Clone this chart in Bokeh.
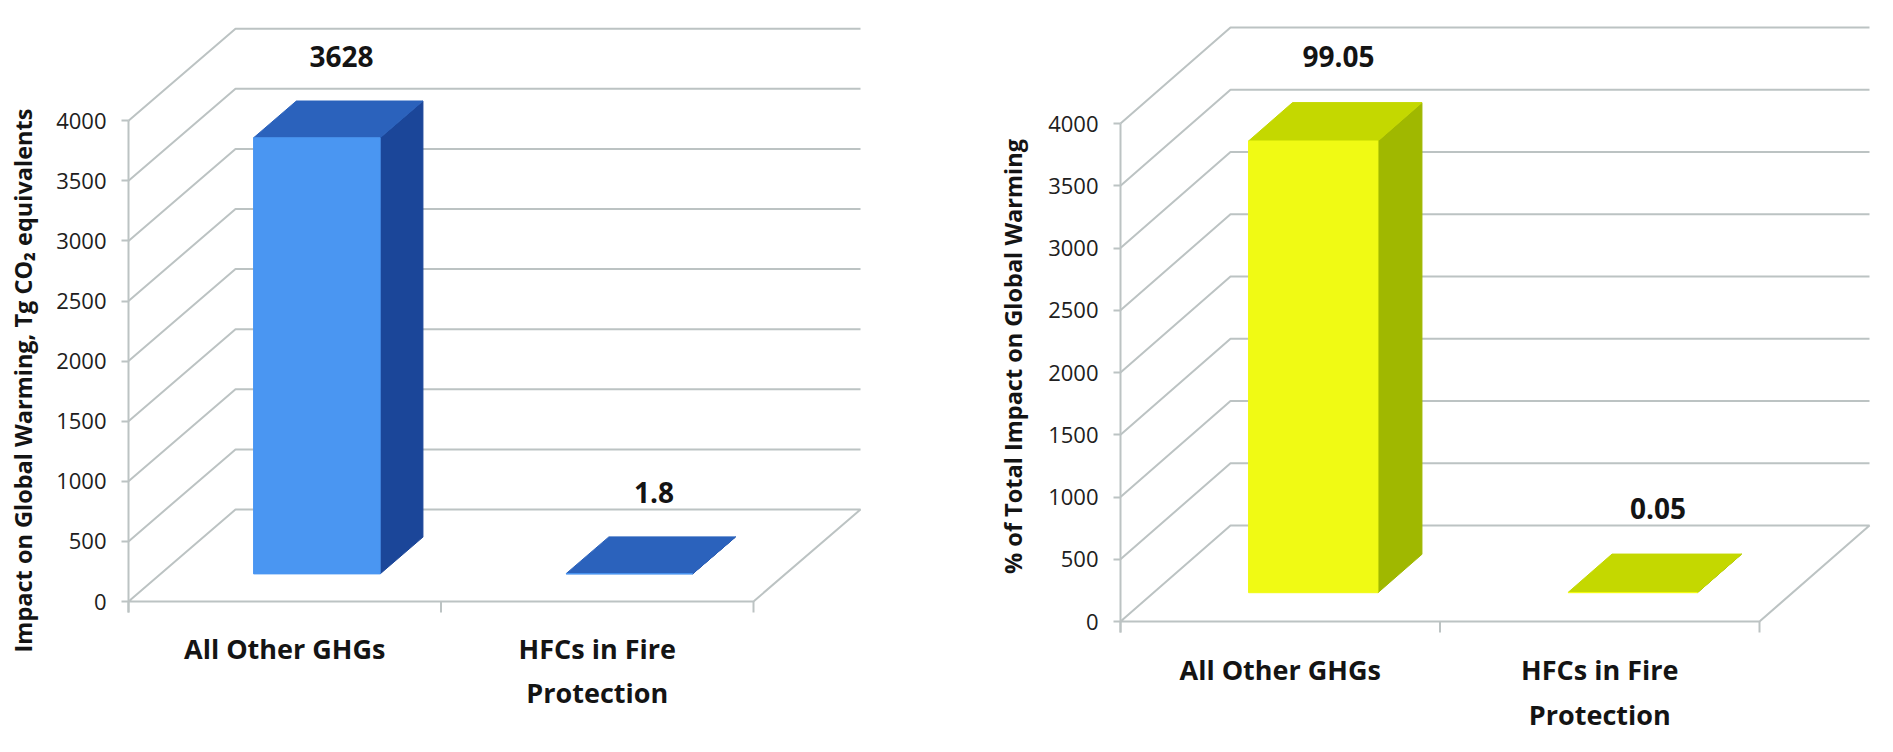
import math
from bokeh.plotting import figure
from bokeh.layouts import row
from bokeh.models import Range1d, FixedTicker, LinearAxis, ColumnDataSource
from bokeh.core.properties import value
from bokeh.embed import file_html
from bokeh.resources import INLINE

# ---------------- data ----------------
categories = ["All Other GHGs", "HFCs in Fire\nProtection"]
impact_tg = [3628, 1.8]                 # Tg CO2 equivalents (bar heights, both panels)
impact_labels = ["3628", "1.8"]
share_pct = [99.05, 0.05]               # % of total impact (right panel labels)
share_labels = ["99.05", "0.05"]
y_ticks = [0, 500, 1000, 1500, 2000, 2500, 3000, 3500, 4000]
title_left = "Impact on Global Warming, Tg CO\u2082 equivalents"
title_right = "% of Total Impact on Global Warming"

# ---------------- style / layout ----------------
GRID = "#BCC3C3"
TXT = "#141414"
FONT = "Open Sans"
FIG_H = 744

LEFT = dict(fig=(0, 880), axis_px=128, zero_px=601, px_per_500=60.1, cat_px=312.5,
            depth_px=(107, 92), title_xy=(22, 380),
            cat_dy=47, cat_gap=44, label_dy=-60,
            front="#4A96F2", top="#2B62BC", side="#1B4699")
RIGHT = dict(fig=(880, 1882), axis_px=1120, zero_px=621, px_per_500=62.25, cat_px=319.5,
             depth_px=(110, 96), title_xy=(1012, 356),
             cat_dy=48, cat_gap=45, label_dy=-62,
             front="#F0FA14", top="#C4D800", side="#A0B800")

BAR_W = 0.405        # bar width as share of category
F0, F1 = 0.30, 0.70  # bar front/back depth fractions
FL = 0.53            # depth fraction of value labels
TICK_LEN = 11


def make_chart(cfg, heights, labels, ytitle):
    ax, z = cfg["axis_px"], cfg["zero_px"]
    ppx = cfg["cat_px"]
    ppy = cfg["px_per_500"] / 500.0
    fl, fr = cfg["fig"]
    p = figure(frame_width=fr - fl, frame_height=FIG_H,
               x_range=Range1d((fl - ax) / ppx, (fr - ax) / ppx),
               y_range=Range1d(-(FIG_H - z) / ppy, z / ppy),
               min_border_left=0, min_border_right=0,
               min_border_top=0, min_border_bottom=0,
               x_axis_location=None, y_axis_location=None,
               toolbar_location=None, output_backend="svg",
               outline_line_color=None, background_fill_color="white")
    p.grid.visible = False

    ya = LinearAxis(fixed_location=0, ticker=FixedTicker(ticks=y_ticks))
    ya.axis_line_color = None
    ya.major_tick_out = 7
    ya.major_tick_in = 0
    ya.major_tick_line_color = GRID
    ya.major_tick_line_width = 2
    ya.minor_tick_line_color = None
    ya.major_label_standoff = 15
    ya.major_label_text_font = FONT
    ya.major_label_text_font_size = "22px"
    ya.major_label_text_color = "#202020"
    p.add_layout(ya, "left")

    DX = cfg["depth_px"][0] / ppx
    DY = cfg["depth_px"][1] / ppy
    ncat = len(categories)
    tick_len = TICK_LEN / ppy

    # back wall gridlines
    xs, ys = [], []
    for t in y_ticks[1:]:
        xs.append([0, DX, ncat + DX])
        ys.append([t, t + DY, t + DY])
    # floor
    xs.append([0, DX, ncat + DX, ncat, 0])
    ys.append([0, DY, DY, 0, 0])
    p.multi_line(xs=xs, ys=ys, line_color=GRID, line_width=2)
    # front axis line and category ticks
    p.segment(x0=[0], y0=[-tick_len], x1=[0], y1=[max(y_ticks)], line_color=GRID, line_width=2)
    p.segment(x0=list(range(ncat + 1)), y0=[0] * (ncat + 1),
              x1=list(range(ncat + 1)), y1=[-tick_len] * (ncat + 1),
              line_color=GRID, line_width=2)

    # 3D bars
    w = BAR_W / 2
    tx, ty, sx, sy = [], [], [], []
    fl_, fr_, fb_, ft_ = [], [], [], []
    for i, v in enumerate(heights):
        cx = i + 0.5
        l0, r0 = cx - w + F0 * DX, cx + w + F0 * DX
        l1, r1 = cx - w + F1 * DX, cx + w + F1 * DX
        b0, b1 = F0 * DY, F1 * DY
        tx.append([l0, r0, r1, l1]); ty.append([v + b0, v + b0, v + b1, v + b1])
        sx.append([r0, r1, r1, r0]); sy.append([b0, b1, v + b1, v + b0])
        fl_.append(l0); fr_.append(r0); fb_.append(b0); ft_.append(v + b0)
    p.patches(xs=sx, ys=sy, fill_color=cfg["side"], line_color=cfg["side"], line_width=1)
    p.patches(xs=tx, ys=ty, fill_color=cfg["top"], line_color=cfg["top"], line_width=1)
    p.quad(left=fl_, right=fr_, bottom=fb_, top=ft_, fill_color=cfg["front"],
           line_color=cfg["front"], line_width=1)

    # value labels
    p.text(x=[i + 0.5 + FL * DX for i in range(ncat)],
           y=[v + FL * DY for v in heights], text=labels,
           y_offset=cfg["label_dy"], text_align="center", text_baseline="middle",
           text_font=value(FONT), text_font_style="bold", text_font_size="28px",
           text_color=TXT)

    # category labels
    cx_l, txt_l, off_l = [], [], []
    for i, c in enumerate(categories):
        for j, line in enumerate(c.split("\n")):
            cx_l.append(i + 0.5); txt_l.append(line)
            off_l.append(cfg["cat_dy"] + j * cfg["cat_gap"])
    src = ColumnDataSource(dict(x=cx_l, y=[0] * len(cx_l), text=txt_l, off=off_l))
    p.text(x="x", y="y", text="text", y_offset="off", source=src,
           text_align="center", text_baseline="middle",
           text_font=value(FONT), text_font_style="bold", text_font_size="27px",
           text_color=TXT)

    # y-axis title (vertical)
    txp, typ = cfg["title_xy"]
    p.text(x=[(txp - ax) / ppx], y=[(z - typ) / ppy], text=[ytitle],
           angle=math.pi / 2, text_align="center", text_baseline="middle",
           text_font=value(FONT), text_font_style="bold", text_font_size="23.5px",
           text_color=TXT)
    return p


p1 = make_chart(LEFT, impact_tg, impact_labels, title_left)
p2 = make_chart(RIGHT, impact_tg, share_labels, title_right)
layout = row(p1, p2)
open("out.html", "w").write(file_html(layout, INLINE))
